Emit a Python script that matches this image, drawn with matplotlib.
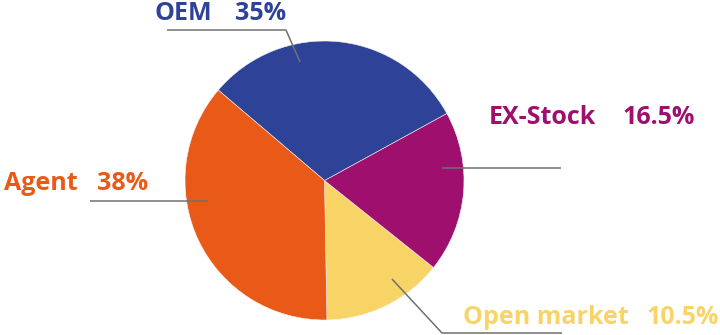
import matplotlib.pyplot as plt

# slice shares as drawn (counterclockwise from the bottom), and the printed labels
names = ["Open market", "EX-Stock", "OEM", "Agent"]
shares = [14.0, 18.7, 30.8, 36.5]
pct_text = ["10.5%", "16.5%", "35%", "38%"]
colors = ["#F8D466", "#9E0F6E", "#2E4398", "#E95A18"]

W, H = 720, 335
fig = plt.figure(figsize=(W / 100, H / 100), dpi=100)
ax = fig.add_axes([0, 0, 1, 1])

ax.pie(shares, colors=colors, startangle=-89, counterclock=True,
       center=(324.5, H - 180.5), radius=139.5,
       wedgeprops=dict(linewidth=0.4, edgecolor="#f4f4f4"), frame=True)
ax.set_xlim(0, W)
ax.set_ylim(0, H)
ax.set_aspect("equal")
ax.axis("off")

# leader lines (pixel coords from the top)
leaders = {
    "OEM": [(167, 30), (286, 30), (300, 62)],
    "Agent": [(90, 201), (208, 201)],
    "EX-Stock": [(442, 167.5), (561, 167.5)],
    "Open market": [(392, 279), (442, 333), (562, 333)],
}
for pts in leaders.values():
    xs = [p[0] for p in pts]
    ys = [H - p[1] for p in pts]
    ax.plot(xs, ys, color="#707070", lw=1.1, solid_capstyle="butt")

# label positions: name x, pct x, baseline y
label_pos = {
    "OEM": (155, 235, 19.5),
    "Agent": (4, 97, 189.5),
    "EX-Stock": (489, 622, 123.5),
    "Open market": (463, 647, 323.5),
}
font = dict(family=["Open Sans", "DejaVu Sans"], fontweight="bold", fontsize=18)
for name, pct, col in zip(names, pct_text, colors):
    xn, xp, yb = label_pos[name]
    ax.text(xn, H - yb, name, color=col, ha="left", va="baseline", **font)
    ax.text(xp, H - yb, pct, color=col, ha="left", va="baseline", **font)

fig.savefig("out.png", dpi=100)
